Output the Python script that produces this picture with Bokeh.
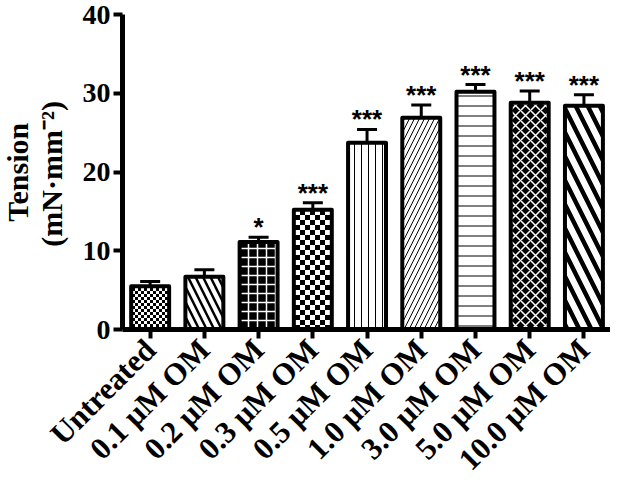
import math
import base64
from bokeh.plotting import figure
from bokeh.models import (ColumnDataSource, Range1d, FixedTicker, LinearAxis,
                          Whisker, TeeHead, ImageURLTexture)
from bokeh.core.properties import value
from bokeh.embed import file_html
from bokeh.resources import INLINE

# ---------------- data ----------------
groups = ["Untreated", "0.1 μM OM", "0.2 μM OM", "0.3 μM OM", "0.5 μM OM",
          "1.0 μM OM", "3.0 μM OM", "5.0 μM OM", "10.0 μM OM"]
tension = [5.5, 6.7, 11.1, 15.2, 23.7, 26.9, 30.2, 28.8, 28.4]
sem = [0.6, 0.9, 0.6, 0.9, 1.7, 1.6, 0.9, 1.5, 1.4]
stars = ["", "", "*", "***", "***", "***", "***", "***", "***"]
y_ticks = [0, 10, 20, 30, 40]
y_label_1 = "Tension"
y_label_2 = "(mN·mm⁻²)"

# ---------------- styles ----------------
patterns = ["checker_s", "left_diagonal_line", "cross", "checker_l", "vertical_line",
            "right_diagonal_line", "horizontal_line", "diagonal_cross", "left_diagonal_line"]
fills = ["white", "white", "black", "white", "white", "white", "white", "black", "white"]
hcolors = ["black", "black", "white", "black", "black", "black", "black", "white", "black"]
hscales = [6, 15, 9, 10, 7, 10, 10, 10, 24]
hweights = [1, 2.5, 1.5, 1, 1, 1, 1, 1.5, 4.5]


def checker(c):
    n = 2 * c
    svg = (f'<svg xmlns="http://www.w3.org/2000/svg" width="{n}" height="{n}">'
           f'<rect width="{n}" height="{n}" fill="white"/>'
           f'<rect width="{c}" height="{c}" fill="black"/>'
           f'<rect x="{c}" y="{c}" width="{c}" height="{c}" fill="black"/></svg>')
    return "data:image/svg+xml;base64," + base64.b64encode(svg.encode()).decode()


FONT = "Liberation Serif"

# ---------------- layout (pixels of the canvas) ----------------
FIG_W, FIG_H = 610, 479
AX_X = 122      # where the y axis sits
AX_Y = 329      # where the x axis sits
TOP = 14        # where the 40 tick sits
X0, X1 = -0.51, 8.49
Y0, Y1 = 0, 40
ppx = (FIG_W - AX_X) / (X1 - X0)
ppy = (AX_Y - TOP) / (Y1 - Y0)
XS = X0 - AX_X / ppx

xs = list(range(len(groups)))
src = ColumnDataSource(dict(
    x=xs, top=tension, upper=[t + s for t, s in zip(tension, sem)], star=stars,
    hp=patterns, fc=fills, hc=hcolors, hs=hscales, hw=hweights,
))

p = figure(width=FIG_W, height=FIG_H,
           x_range=Range1d(XS, X1),
           y_range=Range1d(Y0 - (FIG_H - AX_Y) / ppy, Y1 + TOP / ppy),
           output_backend="svg", toolbar_location=None, min_border=0)
p.outline_line_color = None
p.grid.visible = False

whisk = Whisker(source=src, base="x", upper="upper", lower="top", line_width=3,
                line_color="black",
                upper_head=TeeHead(size=20, line_width=3, line_color="black"),
                lower_head=None)
p.add_layout(whisk)

p.vbar(x="x", top="top", bottom=0, width=0.7, source=src,
       fill_color="fc", line_color="black", line_width=4, line_join="round",
       hatch_pattern="hp", hatch_color="hc", hatch_scale="hs", hatch_weight="hw",
       hatch_extra={"checker_s": ImageURLTexture(url=checker(3)),
                    "checker_l": ImageURLTexture(url=checker(5))})

p.text(x="x", y="upper", text="star", source=src, text_align="center",
       text_baseline="alphabetic", y_offset=-10,
       text_font=value("Liberation Sans"), text_font_size="26px", text_font_style="bold",
       text_color="black")

for ax in (p.xaxis[0], p.yaxis[0]):
    ax.axis_line_width = 5
    ax.axis_line_color = "black"
    ax.major_tick_line_width = 4
    ax.major_tick_out = 9
    ax.major_tick_in = 0
    ax.minor_tick_line_color = None
    ax.major_label_text_font = FONT
    ax.major_label_text_font_style = "bold"
    ax.major_label_text_color = "black"

xax = p.xaxis[0]
xax.fixed_location = 0
xax.bounds = (X0, X1)
xax.ticker = FixedTicker(ticks=xs)
xax.major_label_overrides = {i: g for i, g in zip(xs, groups)}
xax.major_label_orientation = math.pi / 4
xax.major_label_standoff = 6
xax.major_label_text_font_size = "31px"

yax = p.yaxis[0]
yax.fixed_location = X0
yax.bounds = (Y0, Y1)
yax.ticker = FixedTicker(ticks=y_ticks)
yax.major_label_standoff = 3
yax.major_label_text_font_size = "28px"

# y axis title: two rotated one-tick axes (text centre CY, text length L in px)
CY = 173
for txt, px, L in ((y_label_1, 17, 102), (y_label_2, 51, 145)):
    ty = round(((AX_Y - (CY - L / 2)) / ppy) * 4) / 4
    ta = LinearAxis(fixed_location=XS + px / ppx, ticker=FixedTicker(ticks=[ty]),
                    major_label_overrides={ty: txt},
                    major_label_orientation=math.pi / 2,
                    major_label_standoff=0, major_tick_out=0, major_tick_in=0,
                    axis_line_color=None, major_tick_line_color=None,
                    minor_tick_line_color=None,
                    major_label_text_font=FONT, major_label_text_font_style="bold",
                    major_label_text_font_size="30px", major_label_text_color="black")
    p.add_layout(ta, "left")

open("out.html", "w").write(file_html(p, INLINE))
